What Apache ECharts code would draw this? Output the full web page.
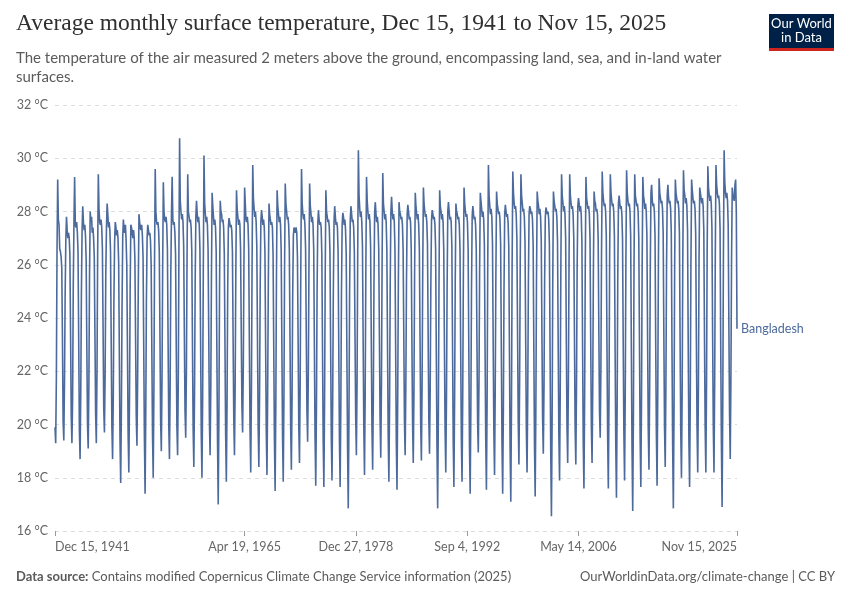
<!DOCTYPE html>
<html>
<head>
<meta charset="utf-8">
<script src="https://cdn.jsdelivr.net/npm/echarts@6.0.0/dist/echarts.min.js"></script>
<style>
html,body{margin:0;padding:0;background:#fff;}
#chart{width:850px;height:600px;}
</style>
</head>
<body>
<div id="chart"></div>
<script>
// Monthly average surface temperature, Bangladesh (°C).
// First value is Dec 1941, then Jan..Dec for each year, ending Nov 2025.
const temps1940s = [
  19.9,
  19.3,21.8,26.4,29.2,27.7,27.5,26.6,26.5,26.3,25.9,23.2,20.1,
  19.4,21.6,24.8,26.9,27.8,27.3,27.0,27.2,27.0,26.4,23.4,20.3,
  19.3,21.0,25.2,27.6,29.3,27.5,27.4,27.6,27.2,26.5,23.1,19.8,
  18.7,21.2,24.9,27.3,28.2,27.6,27.3,27.5,27.1,26.2,22.9,20.0,
  19.1,21.5,25.5,28.0,27.6,27.8,27.2,27.4,27.0,26.3,23.3,20.4,
  19.3,22.0,26.3,29.4,28.1,27.6,27.5,27.7,27.4,26.6,23.6,20.6,
  19.7,21.9,25.6,27.4,28.3,27.9,27.4,27.6,27.3,26.5,23.0,19.9,
  18.7,21.0,24.6,26.8,27.6,27.4,27.1,27.3,27.0,26.1,22.6,19.4
];
const temps1950s = [
  17.8,20.6,24.3,27.0,27.7,27.3,27.2,27.5,26.9,26.0,22.8,19.6,
  18.2,21.1,25.0,27.5,27.4,27.2,27.0,27.3,27.0,26.2,23.2,20.3,
  19.2,21.7,25.2,27.9,27.6,27.4,27.3,27.5,27.1,26.3,22.9,19.5,
  17.4,20.5,24.6,27.0,27.5,27.3,27.1,27.2,26.9,26.0,22.7,19.6,
  18.0,21.3,26.0,29.6,28.0,27.6,27.5,27.6,27.3,26.5,23.3,20.1,
  19.0,21.8,25.8,29.1,28.0,27.7,27.6,27.8,27.5,26.6,23.1,20.0,
  18.7,21.4,25.6,27.9,29.3,27.7,27.5,27.6,27.2,26.4,23.0,19.9,
  18.85,21.7,26.5,30.75,28.4,28.0,27.7,27.9,27.6,26.7,23.4,20.5,
  19.5,22.0,26.2,29.4,28.0,27.8,27.6,27.7,27.4,26.5,22.9,19.8,
  18.4,21.2,25.3,27.8,28.4,27.9,27.6,27.8,27.5,26.6,23.1,19.6
];
const temps1960s = [
  18.0,21.0,25.7,30.1,28.3,27.9,27.6,27.8,27.5,26.6,23.4,20.1,
  18.85,21.4,25.4,28.7,28.2,27.8,27.5,27.7,27.4,26.5,22.8,19.3,
  17.0,20.4,25.1,28.4,28.0,27.9,27.6,27.7,27.4,26.4,22.9,19.6,
  17.85,20.8,24.9,27.4,27.75,27.6,27.4,27.5,27.3,26.5,23.2,20.2,
  18.85,21.5,25.6,28.8,28.1,27.8,27.5,27.7,27.5,26.6,23.5,20.7,
  19.7,22.2,26.0,28.9,28.3,27.7,27.6,27.8,27.5,26.6,23.0,19.8,
  18.2,21.3,25.8,29.75,28.5,28.1,27.8,28.0,27.6,26.7,23.1,19.9,
  18.4,21.0,25.1,27.6,28.05,27.8,27.5,27.7,27.4,26.5,23.0,19.7,
  18.1,21.2,25.3,28.3,27.9,27.7,27.5,27.6,27.4,26.4,22.8,19.4,
  17.5,20.7,25.4,28.8,28.2,27.9,27.6,27.8,27.5,26.5,22.9,19.5
];
const temps1970s = [
  17.85,21.0,25.8,29.05,28.3,28.0,27.7,27.8,27.5,26.6,23.2,19.9,
  18.3,21.0,24.8,27.1,27.4,27.3,27.2,27.4,27.2,26.3,23.1,19.9,
  18.55,21.6,26.0,29.6,28.3,27.9,27.7,27.9,27.5,26.6,23.4,20.5,
  19.35,21.9,25.9,29.05,28.2,27.9,27.6,27.8,27.5,26.6,22.9,19.5,
  17.7,20.6,24.9,27.5,28.05,27.7,27.5,27.6,27.4,26.4,22.8,19.4,
  17.65,20.8,25.5,28.8,28.0,27.8,27.6,27.7,27.4,26.5,22.9,19.5,
  17.9,20.9,25.0,27.6,28.2,27.8,27.5,27.6,27.4,26.5,22.8,19.4,
  17.65,20.7,24.9,27.5,27.95,27.8,27.5,27.7,27.3,26.4,22.6,19.1,
  16.85,20.2,24.8,27.7,28.2,27.9,27.6,27.7,27.4,26.5,23.3,20.3,
  18.85,21.6,26.3,30.3,28.6,28.1,27.8,28.0,27.6,26.7,23.2,19.9
];
const temps1980s = [
  18.1,21.2,25.8,29.3,28.4,28.0,27.7,27.9,27.6,26.7,23.2,19.9,
  18.3,21.1,25.2,28.0,28.35,27.9,27.6,27.8,27.5,26.6,23.3,20.2,
  18.75,21.5,26.0,29.45,28.3,28.0,27.7,27.9,27.6,26.6,22.9,19.6,
  17.85,20.8,25.2,28.0,28.55,28.0,27.7,27.9,27.6,26.6,22.8,19.3,
  17.55,20.9,25.3,28.35,28.0,27.9,27.7,27.8,27.5,26.6,23.3,20.1,
  18.85,21.5,25.3,27.9,28.25,28.0,27.7,27.8,27.6,26.6,23.1,20.0,
  18.55,21.3,25.6,28.7,28.2,27.9,27.7,27.9,27.5,26.6,23.2,20.0,
  18.65,21.5,25.7,28.9,28.3,28.0,27.8,27.9,27.6,26.8,23.3,20.2,
  18.9,21.4,25.3,27.7,28.05,27.9,27.7,27.8,27.5,26.6,22.7,19.2,
  16.85,20.3,25.2,28.8,28.2,28.0,27.7,27.9,27.6,26.6,23.0,19.8
];
const temps1990s = [
  18.2,21.0,25.1,28.0,28.35,28.0,27.7,27.8,27.6,26.7,22.9,19.4,
  17.65,20.9,25.3,28.3,28.0,27.9,27.7,27.8,27.5,26.6,22.9,19.5,
  17.85,21.0,25.6,28.9,28.3,28.0,27.8,27.9,27.6,26.6,22.8,19.2,
  17.4,20.6,25.0,27.8,28.2,27.9,27.7,27.8,27.5,26.6,23.2,20.1,
  18.95,21.6,25.7,28.7,28.4,28.1,27.8,28.0,27.7,26.8,22.9,19.5,
  17.55,20.9,25.9,29.75,28.6,28.2,27.9,28.1,27.8,26.8,23.1,19.8,
  18.1,21.3,25.6,28.75,28.3,28.1,27.9,28.0,27.7,26.8,22.9,19.3,
  17.4,20.6,25.0,27.9,28.25,28.0,27.8,27.9,27.6,26.7,22.8,19.1,
  17.1,20.8,26.0,29.5,28.7,28.3,28.1,28.2,27.9,27.0,23.4,20.1,
  18.5,21.6,26.1,29.4,28.6,28.3,28.0,28.1,27.8,26.9,23.2,19.8
];
const temps2000s = [
  18.2,21.0,25.3,27.9,28.2,28.1,27.9,28.0,27.7,26.8,22.9,19.2,
  17.3,20.7,25.5,28.75,28.4,28.2,27.9,28.1,27.8,26.9,23.3,20.2,
  18.9,21.4,25.4,27.8,28.15,28.1,27.9,28.0,27.7,26.8,22.7,19.0,
  16.55,20.2,25.3,28.75,28.4,28.2,28.0,28.1,27.8,26.9,23.0,19.6,
  17.9,21.3,26.1,29.4,28.6,28.3,28.0,28.2,27.9,27.0,23.1,19.9,
  18.55,21.6,26.0,29.4,28.6,28.3,28.1,28.2,27.9,27.0,23.3,19.9,
  18.5,21.5,25.8,28.2,28.5,28.3,28.0,28.2,27.9,26.9,22.9,19.3,
  17.6,21.0,25.9,29.3,28.5,28.3,28.1,28.2,27.9,27.0,23.2,19.9,
  18.55,21.4,25.8,28.75,28.4,28.3,28.0,28.1,27.9,27.0,23.5,20.5,
  19.5,22.1,26.4,29.5,28.7,28.4,28.2,28.3,28.0,27.1,23.0,19.6
];
const temps2010s = [
  17.6,21.1,26.3,29.4,28.7,28.4,28.2,28.3,28.0,27.1,22.9,19.3,
  17.25,20.7,25.5,28.3,28.6,28.3,28.1,28.2,27.9,27.0,23.1,19.7,
  17.9,21.2,26.2,29.55,28.7,28.4,28.2,28.3,28.0,27.1,22.8,19.1,
  16.75,20.3,26.0,29.4,28.6,28.4,28.2,28.3,28.0,27.0,23.0,19.5,
  17.65,21.0,25.9,29.3,28.6,28.4,28.1,28.3,28.0,27.1,23.2,19.8,
  18.3,21.3,25.8,28.7,29.0,28.4,28.2,28.3,28.0,27.1,23.0,19.6,
  17.7,21.2,26.1,29.25,28.7,28.5,28.3,28.4,28.1,27.2,23.3,19.9,
  18.4,21.5,25.9,28.6,29.0,28.5,28.3,28.4,28.1,27.2,22.9,19.2,
  16.85,20.6,25.9,29.2,28.7,28.5,28.3,28.4,28.1,27.2,23.1,19.7,
  18.0,21.2,26.1,29.55,28.8,28.6,28.3,28.5,28.2,27.3,23.0,19.4
];
const temps2020s = [
  17.65,21.0,26.0,29.2,28.8,28.5,28.3,28.4,28.1,27.2,23.2,19.9,
  18.2,21.5,26.2,28.9,28.7,28.5,28.3,28.5,28.2,27.3,23.3,19.9,
  18.2,21.6,26.5,29.7,28.9,28.6,28.4,28.6,28.3,27.4,23.4,20.0,
  18.2,21.5,26.3,29.75,29.0,28.7,28.5,28.6,28.3,27.4,22.9,19.3,
  16.9,20.8,26.4,30.3,29.1,28.7,28.5,28.7,28.4,27.5,23.7,20.4,
  18.7,21.8,26.2,28.9,28.6,28.5,28.4,29.0,29.2,28.0,23.6
];

const seriesName = 'Bangladesh';
const yTicks = [16, 18, 20, 22, 24, 26, 28, 30, 32];
const tickDates = ['1941-12-15', '1965-04-19', '1978-12-27', '1992-09-04', '2006-05-14', '2025-11-15'];
const tickLabels = ['Dec 15, 1941', 'Apr 19, 1965', 'Dec 27, 1978', 'Sep 4, 1992', 'May 14, 2006', 'Nov 15, 2025'];

const temps = [].concat(temps1940s, temps1950s, temps1960s, temps1970s, temps1980s, temps1990s, temps2000s, temps2010s, temps2020s);
const data = temps.map((v, i) => [Date.UTC(1941, 11 + i, 15), v]);
const tickTs = tickDates.map(d => Date.parse(d));
const labelMap = {};
tickTs.forEach((t, i) => { labelMap[t] = tickLabels[i]; });

const COLOR = '#4c6a9c';
const chart = echarts.init(document.getElementById('chart'), null, { renderer: 'canvas' });
chart.setOption({
  animation: false,
  backgroundColor: '#ffffff',
  title: [
    {
      text: 'Average monthly surface temperature, Dec 15, 1941 to Nov 15, 2025',
      left: 16, top: 12, padding: 0,
      textStyle: { fontFamily: 'Liberation Serif', fontSize: 23.5, fontWeight: 'normal', color: '#2f2f2f' }
    },
    {
      text: 'The temperature of the air measured 2 meters above the ground, encompassing land, sea, and in-land water\nsurfaces.',
      left: 16, top: 49, padding: 0,
      textStyle: { fontFamily: 'Lato', fontSize: 15, fontWeight: 'normal', color: '#5b5b5b', lineHeight: 19 }
    }
  ],
  grid: { left: 55, right: 113, top: 105, bottom: 69, containLabel: false },
  xAxis: {
    type: 'value',
    min: tickTs[0],
    max: tickTs[tickTs.length - 1],
    axisLine: { show: false },
    splitLine: { show: false },
    axisTick: { show: true, customValues: tickTs, length: 5, lineStyle: { color: '#999' } },
    axisLabel: {
      customValues: tickTs,
      formatter: v => labelMap[v] || '',
      fontFamily: 'Lato', fontSize: 12.5, color: '#666', margin: 9,
      alignMinLabel: 'left', alignMaxLabel: 'right'
    }
  },
  yAxis: {
    type: 'value',
    min: 16, max: 32, interval: 2,
    axisLine: { show: false },
    axisTick: { show: false },
    splitLine: { show: true, lineStyle: { color: '#dcdcdc', type: [4, 4], width: 1 } },
    axisLabel: {
      formatter: v => v + ' °C',
      fontFamily: 'Lato', fontSize: 12.5, color: '#666', margin: 7
    }
  },
  series: [{
    name: seriesName,
    type: 'line',
    data: data,
    showSymbol: false,
    symbol: 'none',
    lineStyle: { color: COLOR, width: 1.6 },
    itemStyle: { color: COLOR },
    endLabel: {
      show: true,
      formatter: seriesName,
      color: COLOR,
      fontFamily: 'Lato',
      fontSize: 12.5,
      distance: 4
    }
  }],
  graphic: [
    { type: 'rect', shape: { x: 769, y: 14, width: 65, height: 34 }, style: { fill: '#002147' } },
    { type: 'rect', shape: { x: 769, y: 48, width: 65, height: 3 }, style: { fill: '#ce261e' } },
    { type: 'text', x: 801.5, y: 17, style: { text: 'Our World\nin Data', fill: '#ffffff', font: '13px Lato', lineHeight: 14, align: 'center', verticalAlign: 'top' } },
    { type: 'text', x: 16, y: 570, style: { text: '{b|Data source:} Contains modified Copernicus Climate Change Service information (2025)', rich: { b: { fill: '#5b5b5b', font: 'bold 13px Lato' } }, fill: '#5b5b5b', font: '13px Lato' } },
    { type: 'text', x: 835, y: 570, style: { text: 'OurWorldinData.org/climate-change | CC BY', fill: '#5b5b5b', font: '13px Lato', align: 'right' } }
  ]
});
</script>
</body>
</html>
